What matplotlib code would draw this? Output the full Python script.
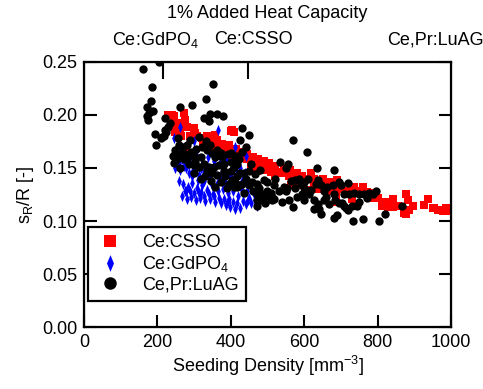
import matplotlib
matplotlib.use("Agg")
import matplotlib.pyplot as plt
from matplotlib.path import Path

plt.rcParams['font.family'] = ['Liberation Sans', 'DejaVu Sans']
plt.rcParams['mathtext.fontset'] = 'custom'
plt.rcParams['mathtext.rm'] = 'Liberation Sans'
plt.rcParams['mathtext.it'] = 'Liberation Sans'
plt.rcParams['font.size'] = 13

# Ce:CSSO (red squares)
csso_x = [230, 244, 271, 253, 262, 281, 290, 308, 240, 244, 262, 249, 303, 335, 358, 376,
          390, 408, 421, 399, 372, 290, 344, 363, 372, 390, 408, 426, 444, 463, 481, 499,
          517, 535, 403, 401, 408, 440, 454, 472, 485, 499, 517, 531, 508, 490, 540, 558,
          572, 563, 581, 617, 626, 645, 663, 672, 608, 626, 672, 690, 683, 677, 686, 686,
          735, 731, 760, 786, 781, 841, 813, 827, 841, 854, 877, 882, 886, 877, 936, 927,
          950, 964, 977, 991, 986, 895, 872, 954, 325, 350, 455, 470, 520, 600, 640, 710,
          320, 340, 355, 380, 395, 415, 430, 445, 460, 475, 490, 505, 520, 545, 560, 580,
          595, 610, 650, 700, 720, 745, 770, 800, 820, 300, 275, 250, 265]
csso_y = [0.200, 0.199, 0.202, 0.192, 0.186, 0.189, 0.180, 0.180, 0.200, 0.191, 0.189, 0.184, 0.183, 0.180, 0.181, 0.173,
          0.168, 0.167, 0.162, 0.161, 0.162, 0.164, 0.180, 0.176, 0.170, 0.167, 0.164, 0.162, 0.158, 0.154, 0.151, 0.153,
          0.148, 0.145, 0.186, 0.185, 0.184, 0.159, 0.157, 0.154, 0.153, 0.154, 0.149, 0.146, 0.146, 0.148, 0.145, 0.142,
          0.139, 0.134, 0.134, 0.145, 0.140, 0.135, 0.135, 0.129, 0.129, 0.132, 0.137, 0.139, 0.132, 0.128, 0.123, 0.118,
          0.132, 0.121, 0.132, 0.126, 0.122, 0.121, 0.114, 0.113, 0.113, 0.114, 0.125, 0.120, 0.110, 0.107, 0.121, 0.115,
          0.112, 0.110, 0.109, 0.109, 0.112, 0.114, 0.108, 0.112, 0.172, 0.168, 0.150, 0.147, 0.142, 0.138, 0.130, 0.127,
          0.178, 0.175, 0.172, 0.170, 0.172, 0.168, 0.165, 0.163, 0.160, 0.158, 0.157, 0.155, 0.152, 0.150, 0.148, 0.145,
          0.142, 0.140, 0.140, 0.130, 0.128, 0.128, 0.127, 0.122, 0.118, 0.188, 0.195, 0.185, 0.180]

# Ce:GdPO4 (blue diamonds)
gdpo_x = [250, 258, 265, 275, 290, 305, 320, 338, 355, 370, 388, 405, 425, 440,
          248, 262, 272, 285, 298, 312, 326, 342, 356, 370, 385, 400, 415, 430,
          258, 270, 282, 295, 308, 322, 336, 350, 364, 378, 392, 406, 420, 433, 450,
          268, 280, 292, 304, 316, 330, 344, 358, 372, 386, 398, 412, 425, 440, 455, 472,
          262, 366, 245, 300, 410, 278, 318, 352, 395,
          252, 260, 268, 278, 286, 294, 302, 310, 318, 328, 334, 346, 352, 362, 375, 382,
          395, 402, 418, 428, 438, 445, 462, 275, 288, 300, 313, 326, 340, 354, 368, 380,
          393, 405, 418, 432, 448, 465]
gdpo_y = [0.168, 0.172, 0.165, 0.162, 0.160, 0.163, 0.158, 0.160, 0.157, 0.155, 0.158, 0.152, 0.150, 0.161,
          0.150, 0.148, 0.152, 0.145, 0.148, 0.143, 0.146, 0.141, 0.144, 0.140, 0.138, 0.142, 0.136, 0.138,
          0.138, 0.135, 0.132, 0.136, 0.131, 0.134, 0.129, 0.132, 0.128, 0.130, 0.126, 0.128, 0.124, 0.126, 0.122,
          0.124, 0.121, 0.123, 0.120, 0.122, 0.119, 0.121, 0.118, 0.117, 0.115, 0.113, 0.111, 0.112, 0.116, 0.117, 0.114,
          0.189, 0.186, 0.178, 0.175, 0.170, 0.128, 0.127, 0.125, 0.121,
          0.158, 0.155, 0.158, 0.150, 0.155, 0.142, 0.153, 0.139, 0.150, 0.138, 0.152, 0.136, 0.148, 0.135, 0.146, 0.133,
          0.145, 0.134, 0.145, 0.131, 0.145, 0.128, 0.125, 0.128, 0.128, 0.126, 0.126, 0.124, 0.125, 0.124, 0.122, 0.121,
          0.119, 0.118, 0.117, 0.119, 0.120, 0.120]

# Ce,Pr:LuAG (black circles)
luag_x = [160, 205, 185, 350, 182, 331, 172, 189, 178, 171, 175, 295, 262, 344, 361, 379,
          328, 341, 221, 235, 194, 212, 219, 224, 197, 210, 221, 229, 429, 450, 426, 568, 608,
          255, 260, 249, 242, 290, 281, 270, 312, 331, 344, 335, 349, 372, 362, 271, 285,
          299, 312, 303, 262, 326, 340, 353, 367, 381, 399, 408, 417, 335, 349, 362, 381,
          399, 385, 404, 417, 426, 358, 390, 408, 426, 244, 262, 281, 299,
          399, 413, 421, 408, 454, 435, 449, 431, 449, 458, 490, 499, 517, 535, 555, 549,
          476, 490, 472, 485, 499, 513, 508, 545, 554, 549, 576, 585, 599, 576, 599, 617,
          631, 636, 645, 654, 663, 558, 581, 594, 613, 626, 636, 626, 640, 645, 654, 667,
          494, 517, 417, 435, 460, 472, 485, 499, 513, 494, 472, 634, 680,
          677, 699, 718, 694, 708, 721, 735, 749, 762, 776, 787, 703, 731, 713, 694,
          680, 690, 733, 760, 804, 820, 865, 719, 708, 744,
          245, 253, 266, 276, 292, 306, 318, 322, 356, 376, 392, 410, 430, 440, 300, 318,
          330, 345, 372, 395, 412, 440, 465, 480, 470, 520, 530, 565, 590, 610, 540, 570,
          600, 660, 685, 750, 770, 795, 680]
luag_y = [0.243, 0.250, 0.226, 0.229, 0.213, 0.215, 0.207, 0.204, 0.202, 0.199, 0.195, 0.209, 0.207, 0.201, 0.201, 0.199,
          0.197, 0.194, 0.197, 0.192, 0.182, 0.179, 0.180, 0.184, 0.172, 0.178, 0.186, 0.189, 0.188, 0.181, 0.176, 0.176, 0.165,
          0.178, 0.172, 0.167, 0.161, 0.176, 0.172, 0.170, 0.179, 0.175, 0.172, 0.167, 0.164, 0.164, 0.167, 0.158, 0.154,
          0.153, 0.151, 0.156, 0.150, 0.154, 0.151, 0.151, 0.153, 0.154, 0.156, 0.151, 0.154, 0.148, 0.145, 0.143, 0.147,
          0.147, 0.142, 0.139, 0.142, 0.145, 0.132, 0.131, 0.132, 0.134, 0.162, 0.161, 0.158, 0.161,
          0.164, 0.161, 0.158, 0.151, 0.154, 0.145, 0.147, 0.135, 0.134, 0.137, 0.139, 0.137, 0.134, 0.156, 0.154, 0.150,
          0.131, 0.125, 0.125, 0.120, 0.121, 0.120, 0.126, 0.132, 0.131, 0.128, 0.139, 0.140, 0.137, 0.131, 0.131, 0.129,
          0.135, 0.139, 0.134, 0.128, 0.132, 0.120, 0.123, 0.125, 0.125, 0.120, 0.116, 0.111, 0.111, 0.107, 0.120, 0.116,
          0.118, 0.121, 0.132, 0.126, 0.128, 0.120, 0.123, 0.128, 0.123, 0.117, 0.114, 0.150, 0.148,
          0.134, 0.134, 0.136, 0.137, 0.125, 0.125, 0.126, 0.125, 0.125, 0.126, 0.125, 0.117, 0.114, 0.112, 0.117,
          0.103, 0.106, 0.100, 0.102, 0.100, 0.107, 0.114, 0.110, 0.114, 0.114,
          0.155, 0.158, 0.164, 0.163, 0.165, 0.168, 0.160, 0.170, 0.160, 0.160, 0.163, 0.160, 0.165, 0.170, 0.145, 0.140,
          0.142, 0.138, 0.137, 0.135, 0.137, 0.140, 0.144, 0.148, 0.135, 0.140, 0.128, 0.138, 0.135, 0.140, 0.118, 0.113,
          0.120, 0.123, 0.120, 0.118, 0.122, 0.128, 0.125]

thin_diamond = Path([(0, 1), (0.42, 0), (0, -1), (-0.42, 0), (0, 1)],
                    [Path.MOVETO, Path.LINETO, Path.LINETO, Path.LINETO, Path.CLOSEPOLY])

fig = plt.figure(figsize=(4.83, 3.89), dpi=100)
ax = fig.add_axes([0.174, 0.159, 0.760, 0.682])

ax.plot(csso_x, csso_y, 's', color='#ff0000', ms=5.4, mew=0, label='Ce:CSSO')
ax.plot(gdpo_x, gdpo_y, marker=thin_diamond, ls='none', color='#0000ff', ms=8, mew=0,
        label='Ce:GdPO$_4$')
ax.plot(luag_x, luag_y, 'o', color='black', ms=6, mew=0, label='Ce,Pr:LuAG')

ax.set_xlim(0, 1000)
ax.set_ylim(0, 0.25)
ax.set_xticks([0, 200, 400, 600, 800, 1000])
ax.set_yticks([0, 0.05, 0.10, 0.15, 0.20, 0.25])
ax.set_yticklabels(['0.00', '0.05', '0.10', '0.15', '0.20', '0.25'])
ax.tick_params(direction='in', length=9, width=1.5, top=False, right=True, pad=5)
for s in ax.spines.values():
    s.set_linewidth(1.6)

ax.set_xlabel('Seeding Density [mm$^{-3}$]', labelpad=2)
ax.set_ylabel('s$_R$/R [-]', labelpad=4)

# top axis marks for the three materials
top = ax.twiny()
top.set_xlim(0, 1000)
top.set_xticks([215, 447])
top.set_xticklabels([])
top.tick_params(direction='in', length=12, width=1.5)
fig.text(155 / 483, 1 - 40 / 389, 'Ce:GdPO$_4$', ha='center', va='center')
fig.text(253 / 483, 1 - 40 / 389, 'Ce:CSSO', ha='center', va='center')
fig.text(435 / 483, 1 - 40 / 389, 'Ce,Pr:LuAG', ha='center', va='center')
fig.text(267 / 483, 1 - 13 / 389, '1% Added Heat Capacity', ha='center', va='center')

leg = ax.legend(loc='upper left', bbox_to_anchor=(0.011, 0.377), frameon=True,
                fancybox=False, framealpha=1, edgecolor='black', borderpad=0.4,
                handletextpad=1.0, labelspacing=0.15, handlelength=1.6, markerscale=1.5,
                borderaxespad=0)
leg.get_frame().set_linewidth(1.6)

fig.savefig('out.png', dpi=100)
